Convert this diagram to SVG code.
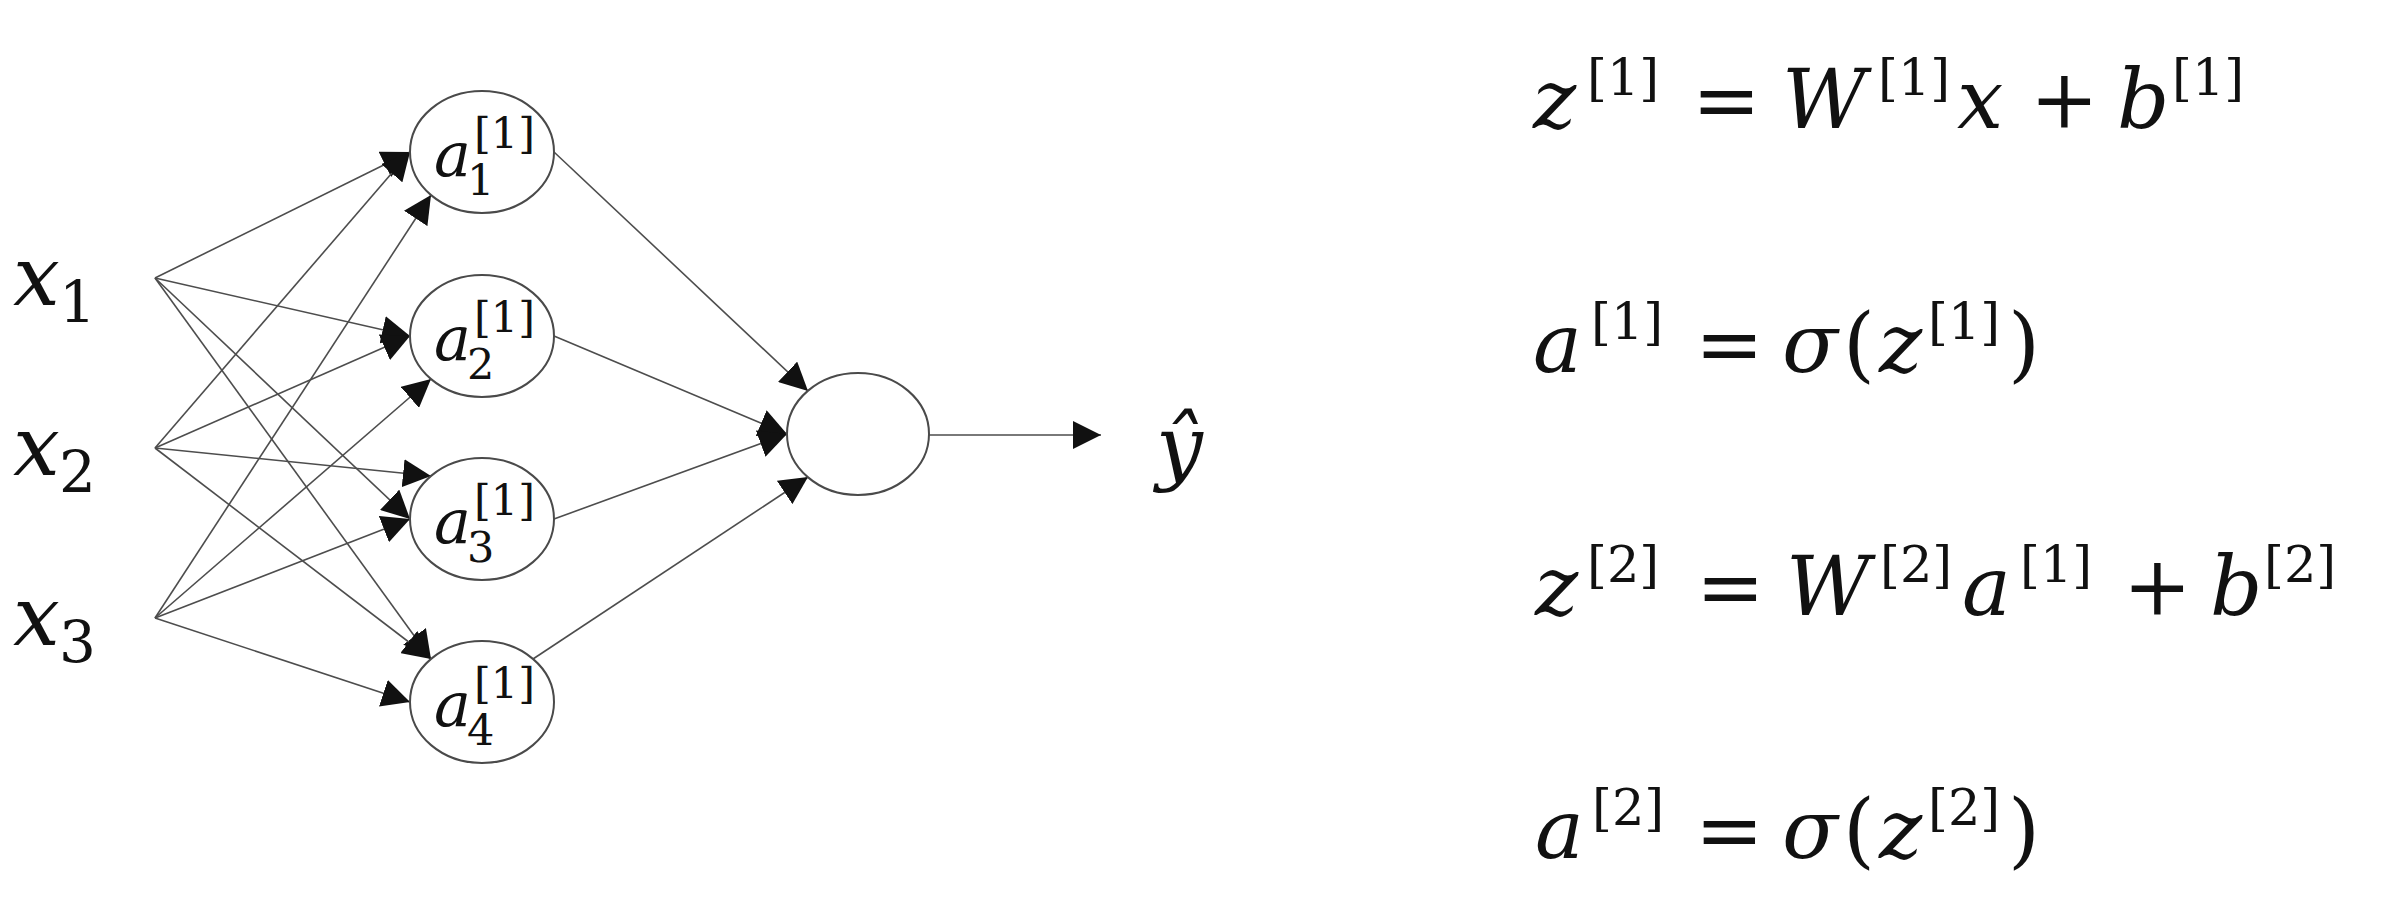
<svg xmlns="http://www.w3.org/2000/svg" width="2392" height="916" viewBox="0 0 2392 916" font-family="DejaVu Serif, serif">
<style>
.node{fill:#fff;stroke:#4a4a4a;stroke-width:2}
.edge{stroke:#4d4d4d;stroke-width:1.6;fill:none;marker-end:url(#arr)}
text{fill:#111}
.it{font-style:italic}
.up{font-style:normal}
.lbl{font-size:62px}
.lsub{font-size:43px}
.big{font-size:83px}
.bsub{font-size:58px}
.eq{font-size:82px}
.sup{font-size:51px}
</style>
<defs>
<marker id="arr" viewBox="0 0 28 28" refX="28" refY="14" markerWidth="28" markerHeight="28" markerUnits="userSpaceOnUse" orient="auto">
<path d="M0,0 L28,14 L0,28 z" fill="#111"/>
</marker>
</defs>
<rect width="2392" height="916" fill="#fff"/>

<g id="connectors">
<line class="edge" x1="155" y1="278" x2="410" y2="152"/>
<line class="edge" x1="155" y1="278" x2="410" y2="336"/>
<line class="edge" x1="155" y1="278" x2="410" y2="519"/>
<line class="edge" x1="155" y1="278" x2="431" y2="659"/>
<line class="edge" x1="155" y1="448" x2="410" y2="152"/>
<line class="edge" x1="155" y1="448" x2="410" y2="336"/>
<line class="edge" x1="155" y1="448" x2="431" y2="476"/>
<line class="edge" x1="155" y1="448" x2="431" y2="659"/>
<line class="edge" x1="155" y1="618" x2="431" y2="195"/>
<line class="edge" x1="155" y1="618" x2="431" y2="379"/>
<line class="edge" x1="155" y1="618" x2="410" y2="519"/>
<line class="edge" x1="155" y1="618" x2="410" y2="702"/>
<line class="edge" x1="554" y1="152" x2="808" y2="391"/>
<line class="edge" x1="554" y1="336" x2="787" y2="434"/>
<line class="edge" x1="554" y1="519" x2="787" y2="434"/>
<line class="edge" x1="533" y1="659" x2="808" y2="477"/>
<line class="edge" x1="929" y1="435" x2="1101" y2="435"/>
</g>

<g id="x1" font-family="DejaVu Serif, serif"><text class="it big" x="13" y="305">x</text><text class="up bsub" x="59" y="322">1</text></g>
<g id="x2" font-family="DejaVu Serif, serif"><text class="it big" x="13" y="475">x</text><text class="up bsub" x="59" y="492">2</text></g>
<g id="x3" font-family="DejaVu Serif, serif"><text class="it big" x="13" y="645">x</text><text class="up bsub" x="59" y="662">3</text></g>

<g id="a1" font-family="DejaVu Serif, serif">
<ellipse class="node" cx="482" cy="152" rx="72" ry="61"/>
<text class="it lbl" x="434" y="176">a</text><text class="up lsub" x="467" y="195">1</text><text class="up lsub" x="474" y="148">[1]</text>
</g>
<g id="a2" font-family="DejaVu Serif, serif">
<ellipse class="node" cx="482" cy="336" rx="72" ry="61"/>
<text class="it lbl" x="434" y="360">a</text><text class="up lsub" x="467" y="379">2</text><text class="up lsub" x="474" y="332">[1]</text>
</g>
<g id="a3" font-family="DejaVu Serif, serif">
<ellipse class="node" cx="482" cy="519" rx="72" ry="61"/>
<text class="it lbl" x="434" y="543">a</text><text class="up lsub" x="467" y="562">3</text><text class="up lsub" x="474" y="515">[1]</text>
</g>
<g id="a4" font-family="DejaVu Serif, serif">
<ellipse class="node" cx="482" cy="702" rx="72" ry="61"/>
<text class="it lbl" x="434" y="726">a</text><text class="up lsub" x="467" y="745">4</text><text class="up lsub" x="474" y="698">[1]</text>
</g>

<g id="out">
<ellipse class="node" cx="858" cy="434" rx="71" ry="61"/>
</g>

<g id="yhat" font-family="DejaVu Serif, serif"><text class="it big" x="1156" y="475">ŷ</text></g>

<g id="eq1" font-family="DejaVu Serif, serif">
<text class="eq" y="128"><tspan class="it" x="1533">z</tspan><tspan class="up sup" x="1587" y="95">[1]</tspan><tspan class="up" x="1692" y="128">=</tspan><tspan class="it" x="1782">W</tspan><tspan class="up sup" x="1878" y="95">[1]</tspan><tspan class="it" x="1957" y="128">x</tspan><tspan class="up" x="2030">+</tspan><tspan class="it" x="2117">b</tspan><tspan class="up sup" x="2172" y="95">[1]</tspan></text>
</g>
<g id="eq2" font-family="DejaVu Serif, serif">
<text class="eq" y="372"><tspan class="it" x="1533">a</tspan><tspan class="up sup" x="1591" y="339">[1]</tspan><tspan class="up" x="1695" y="372">=</tspan><tspan class="it" x="1782">σ</tspan><tspan class="up" x="1843">(</tspan><tspan class="it" x="1879">z</tspan><tspan class="up sup" x="1928" y="339">[1]</tspan><tspan class="up" x="2008" y="372">)</tspan></text>
</g>
<g id="eq3" font-family="DejaVu Serif, serif">
<text class="eq" y="615"><tspan class="it" x="1535">z</tspan><tspan class="up sup" x="1587" y="582">[2]</tspan><tspan class="up" x="1696" y="615">=</tspan><tspan class="it" x="1786">W</tspan><tspan class="up sup" x="1880" y="582">[2]</tspan><tspan class="it" x="1962" y="615">a</tspan><tspan class="up sup" x="2020" y="582">[1]</tspan><tspan class="up" x="2123" y="615">+</tspan><tspan class="it" x="2210">b</tspan><tspan class="up sup" x="2264" y="582">[2]</tspan></text>
</g>
<g id="eq4" font-family="DejaVu Serif, serif">
<text class="eq" y="858"><tspan class="it" x="1535">a</tspan><tspan class="up sup" x="1592" y="825">[2]</tspan><tspan class="up" x="1695" y="858">=</tspan><tspan class="it" x="1782">σ</tspan><tspan class="up" x="1843">(</tspan><tspan class="it" x="1879">z</tspan><tspan class="up sup" x="1928" y="825">[2]</tspan><tspan class="up" x="2008" y="858">)</tspan></text>
</g>
</svg>
